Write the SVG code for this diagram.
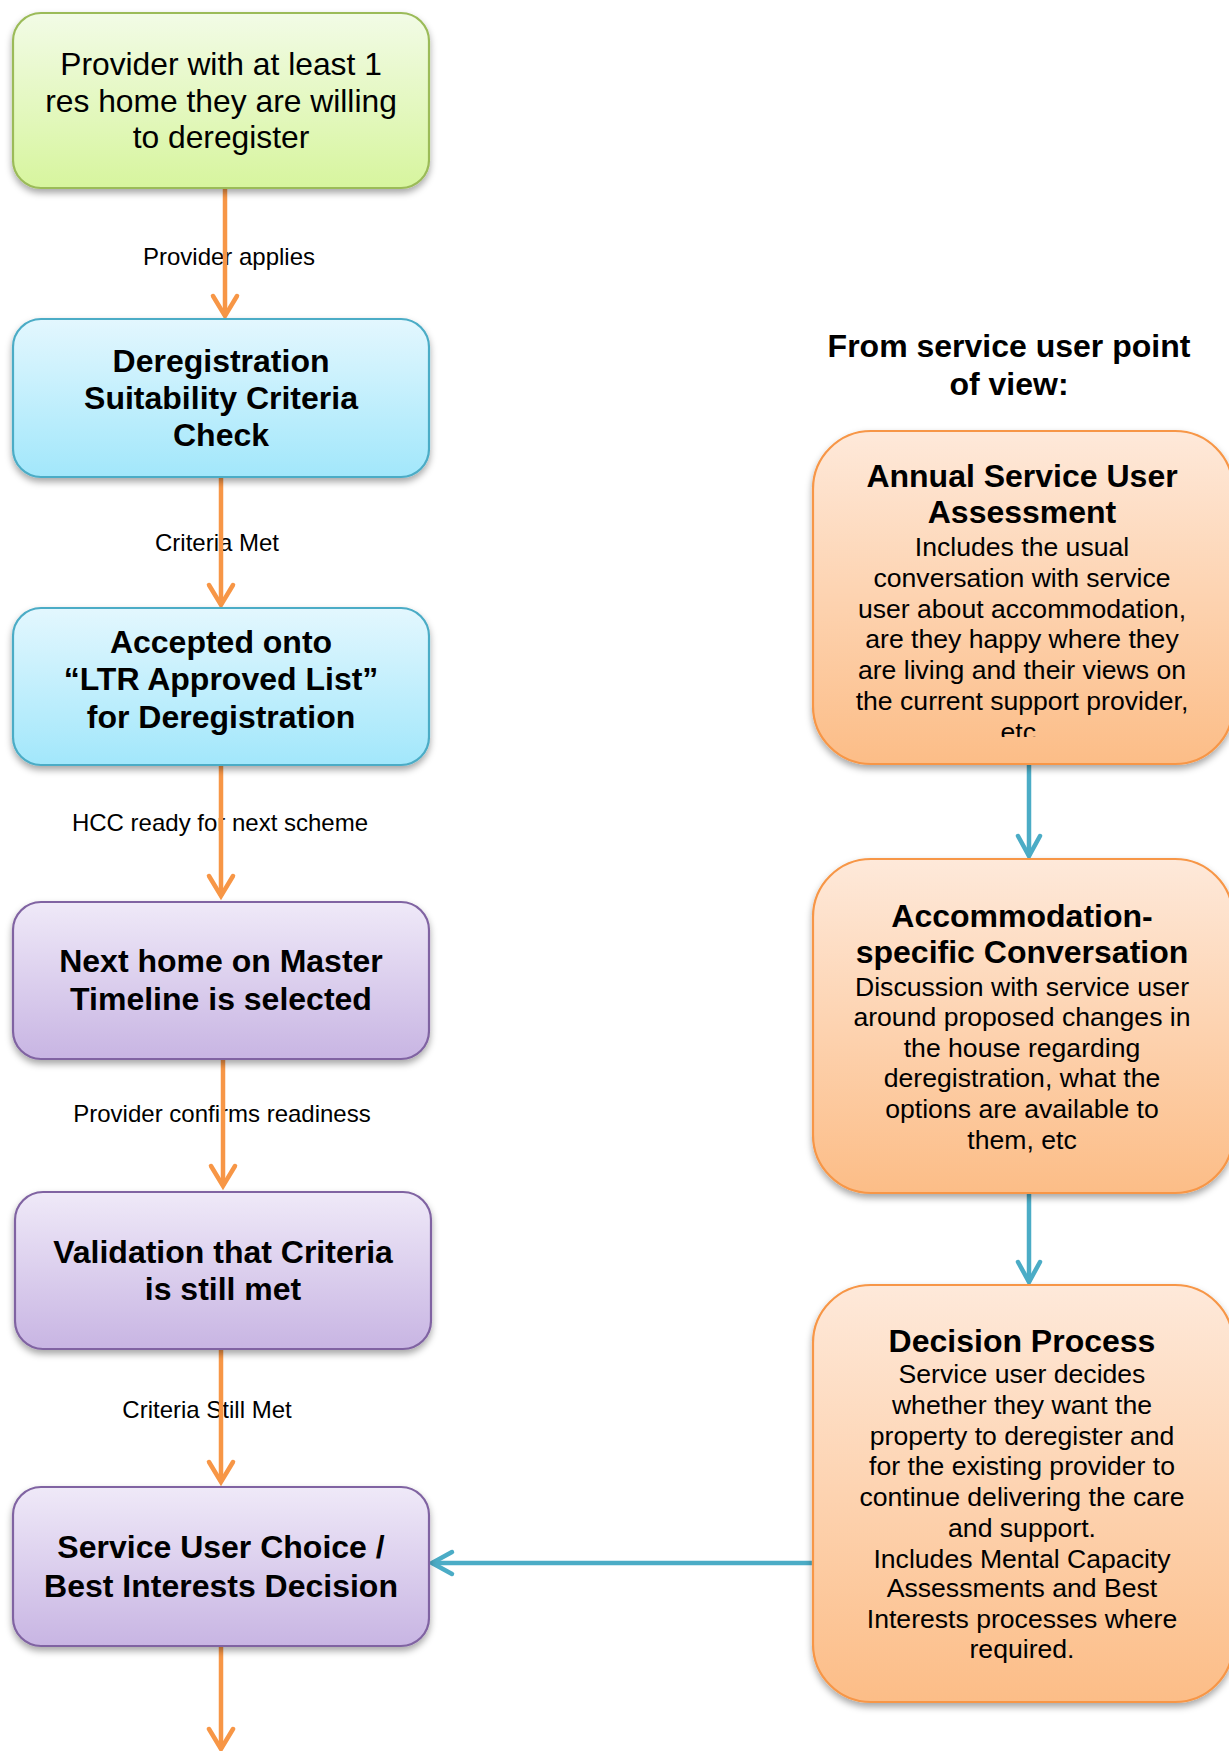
<svg xmlns="http://www.w3.org/2000/svg" width="1229" height="1751" viewBox="0 0 1229 1751">
<style>
  text { font-family: "Liberation Sans", Arial, sans-serif; fill: #000; text-anchor: middle; }
  .t { font-size: 31.8px; }
  .b { font-size: 32px; font-weight: bold; }
  .body { font-size: 26.6px; }
  .lbl { font-size: 24px; }
  .box { stroke-width: 2.2; filter: url(#sh); }
  .g { fill: url(#gGreen); stroke: #9bbb59; }
  .bl { fill: url(#gBlue); stroke: #4bacc6; }
  .p { fill: url(#gPurple); stroke: #8064a2; }
  .o { fill: url(#gOrange); stroke: #f79646; }
  .co { stroke: #f79646; stroke-width: 4.5; fill: none; marker-end: url(#arO); }
  .cb { stroke: #4bacc6; stroke-width: 4.5; fill: none; marker-end: url(#arB); }
</style>
<defs>
  <linearGradient id="gGreen" x1="0" y1="0" x2="0" y2="1">
    <stop offset="0" stop-color="#f2fbe6"/><stop offset="1" stop-color="#d7f59e"/>
  </linearGradient>
  <linearGradient id="gBlue" x1="0" y1="0" x2="0" y2="1">
    <stop offset="0" stop-color="#e3f7fe"/><stop offset="1" stop-color="#a2e7fb"/>
  </linearGradient>
  <linearGradient id="gPurple" x1="0" y1="0" x2="0" y2="1">
    <stop offset="0" stop-color="#efe9f8"/><stop offset="1" stop-color="#c8b5e3"/>
  </linearGradient>
  <linearGradient id="gOrange" x1="0" y1="0" x2="0" y2="1">
    <stop offset="0" stop-color="#fee9da"/><stop offset="1" stop-color="#fcbd87"/>
  </linearGradient>
  <filter id="sh" x="-10%" y="-10%" width="120%" height="125%">
    <feDropShadow dx="0" dy="4" stdDeviation="3.5" flood-color="#000" flood-opacity="0.35"/>
  </filter>
  <marker id="arO" markerUnits="userSpaceOnUse" markerWidth="40" markerHeight="40" viewBox="-30 -20 40 40" refX="0" refY="0" orient="auto" overflow="visible">
    <path d="M-20,-12 L0,0 L-20,12" fill="none" stroke="#f79646" stroke-width="4.5" stroke-linecap="round" stroke-linejoin="miter"/>
  </marker>
  <marker id="arB" markerUnits="userSpaceOnUse" markerWidth="40" markerHeight="40" viewBox="-30 -20 40 40" refX="0" refY="0" orient="auto" overflow="visible">
    <path d="M-20,-11 L0,0 L-20,11" fill="none" stroke="#4bacc6" stroke-width="4.5" stroke-linecap="round" stroke-linejoin="miter"/>
  </marker>
  <clipPath id="clipEtc">
    <rect x="800" y="420" width="429" height="317"/>
  </clipPath>
</defs>

<g id="connectors">
  <text class="lbl" x="229" y="265">Provider applies</text>
  <text class="lbl" x="217" y="551">Criteria Met</text>
  <text class="lbl" x="220" y="831">HCC ready for next scheme</text>
  <text class="lbl" x="222" y="1122">Provider confirms readiness</text>
  <text class="lbl" x="207" y="1418">Criteria Still Met</text>
  <path class="co" d="M225,189 L225,316"/>
  <path class="co" d="M221,478 L221,605"/>
  <path class="co" d="M221,766 L221,896"/>
  <path class="co" d="M223,1060 L223,1186"/>
  <path class="co" d="M221,1350 L221,1482"/>
  <path class="co" d="M221,1647 L221,1749"/>
  <path class="cb" d="M1029,765 L1029,856"/>
  <path class="cb" d="M1029,1194 L1029,1282"/>
  <path class="cb" d="M812,1563 L432,1563"/>
</g>

<g id="node-provider">
  <rect class="box g" x="13" y="13" width="416" height="175" rx="28"/>
  <text class="t" x="221" y="75">Provider with at least 1</text>
  <text class="t" x="221" y="112">res home they are willing</text>
  <text class="t" x="221" y="148">to deregister</text>
</g>

<g id="node-suitability">
  <rect class="box bl" x="13" y="319" width="416" height="158" rx="28"/>
  <text class="b" x="221" y="372">Deregistration</text>
  <text class="b" x="221" y="409">Suitability Criteria</text>
  <text class="b" x="221" y="446">Check</text>
</g>

<g id="node-accepted">
  <rect class="box bl" x="13" y="608" width="416" height="157" rx="28"/>
  <text class="b" x="221" y="653">Accepted onto</text>
  <text class="b" x="221" y="690">“LTR Approved List”</text>
  <text class="b" x="221" y="728">for Deregistration</text>
</g>

<g id="node-next-home">
  <rect class="box p" x="13" y="902" width="416" height="157" rx="28"/>
  <text class="b" x="221" y="972">Next home on Master</text>
  <text class="b" x="221" y="1010">Timeline is selected</text>
</g>

<g id="node-validation">
  <rect class="box p" x="15" y="1192" width="416" height="157" rx="28"/>
  <text class="b" x="223" y="1263">Validation that Criteria</text>
  <text class="b" x="223" y="1300">is still met</text>
</g>

<g id="node-choice">
  <rect class="box p" x="13" y="1487" width="416" height="159" rx="28"/>
  <text class="b" x="221" y="1558">Service User Choice /</text>
  <text class="b" x="221" y="1597">Best Interests Decision</text>
</g>

<g id="title-service-user">
  <text class="b" x="1009" y="357">From service user point</text>
  <text class="b" x="1009" y="395">of view:</text>
</g>

<g id="node-annual">
  <rect class="box o" x="813" y="431" width="420" height="333" rx="58"/>
  <text class="b" x="1022" y="487">Annual Service User</text>
  <text class="b" x="1022" y="523">Assessment</text>
  <text class="body" x="1022" y="556">Includes the usual</text>
  <text class="body" x="1022" y="587">conversation with service</text>
  <text class="body" x="1022" y="618">user about accommodation,</text>
  <text class="body" x="1022" y="648">are they happy where they</text>
  <text class="body" x="1022" y="679">are living and their views on</text>
  <text class="body" x="1022" y="710">the current support provider,</text>
  <text class="body" x="1022" y="741" clip-path="url(#clipEtc)">etc.</text>
</g>

<g id="node-accommodation">
  <rect class="box o" x="813" y="859" width="420" height="334" rx="58"/>
  <text class="b" x="1022" y="927">Accommodation-</text>
  <text class="b" x="1022" y="963">specific Conversation</text>
  <text class="body" x="1022" y="996">Discussion with service user</text>
  <text class="body" x="1022" y="1026">around proposed changes in</text>
  <text class="body" x="1022" y="1057">the house regarding</text>
  <text class="body" x="1022" y="1087">deregistration, what the</text>
  <text class="body" x="1022" y="1118">options are available to</text>
  <text class="body" x="1022" y="1149">them, etc</text>
</g>

<g id="node-decision">
  <rect class="box o" x="813" y="1285" width="420" height="417" rx="58"/>
  <text class="b" x="1022" y="1352">Decision Process</text>
  <text class="body" x="1022" y="1383">Service user decides</text>
  <text class="body" x="1022" y="1414">whether they want the</text>
  <text class="body" x="1022" y="1445">property to deregister and</text>
  <text class="body" x="1022" y="1475">for the existing provider to</text>
  <text class="body" x="1022" y="1506">continue delivering the care</text>
  <text class="body" x="1022" y="1537">and support.</text>
  <text class="body" x="1022" y="1568">Includes Mental Capacity</text>
  <text class="body" x="1022" y="1597">Assessments and Best</text>
  <text class="body" x="1022" y="1628">Interests processes where</text>
  <text class="body" x="1022" y="1658">required.</text>
</g>
</svg>
